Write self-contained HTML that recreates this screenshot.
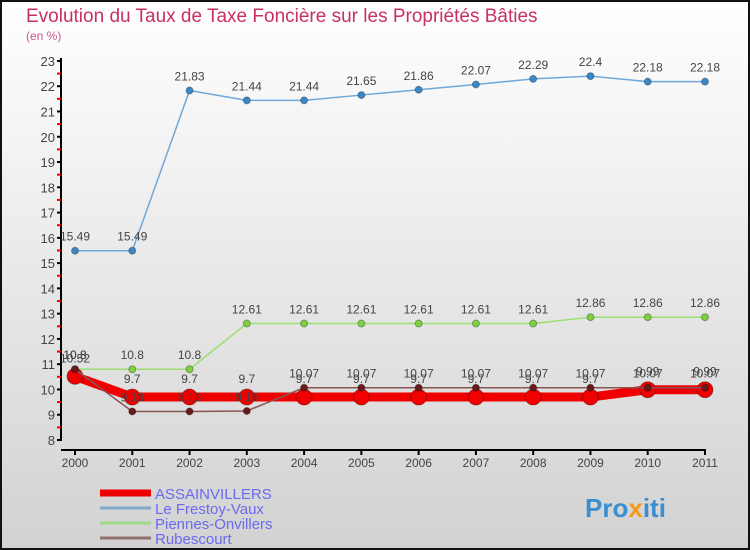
<!DOCTYPE html>
<html><head><meta charset="utf-8"><style>
body{margin:0;width:750px;height:550px;overflow:hidden}
svg{display:block;font-family:"Liberation Sans",sans-serif}
</style></head><body>
<svg id="c" width="750" height="550" viewBox="0 0 750 550">
<defs><linearGradient id="bg" x1="0" y1="0" x2="0" y2="1"><stop offset="0" stop-color="#ffffff"/><stop offset="1" stop-color="#d2d2d2"/></linearGradient></defs>
<rect x="1" y="1" width="748" height="548" fill="url(#bg)" stroke="#111" stroke-width="2"/>
<text x="26" y="22" font-size="19" fill="#c8305f">Evolution du Taux de Taxe Foncière sur les Propriétés Bâties</text>
<text x="26" y="40" font-size="12" fill="#c8588a">(en %)</text>
<g id="axes"></g><g id="series"></g><g id="legend"></g>
<text x="585" y="517" font-size="26" font-weight="bold" fill="#3a8fd0">Pro<tspan fill="#f39a1a">x</tspan>iti</text>
</svg>
<script>
const years=[2000,2001,2002,2003,2004,2005,2006,2007,2008,2009,2010,2011];
const yTicks=[8,9,10,11,12,13,14,15,16,17,18,19,20,21,22,23];
const assain=[10.52,9.7,9.7,9.7,9.7,9.7,9.7,9.7,9.7,9.7,9.99,9.99];
const frestoy=[15.49,15.49,21.83,21.44,21.44,21.65,21.86,22.07,22.29,22.4,22.18,22.18];
const piennes=[10.8,10.8,10.8,12.61,12.61,12.61,12.61,12.61,12.61,12.86,12.86,12.86];
const rubes=[10.8,9.13,9.13,9.15,10.07,10.07,10.07,10.07,10.07,10.07,10.07,10.07];
const names=["ASSAINVILLERS","Le Frestoy-Vaux","Piennes-Onvillers","Rubescourt"];
const NS="http://www.w3.org/2000/svg";
const xs=i=>75+i*(630/11);
const ys=v=>440-(v-8)*25.27;
function mk(t,a,p){const e=document.createElementNS(NS,t);for(const k in a)e.setAttribute(k,a[k]);p.appendChild(e);return e;}
const ax=document.getElementById('axes');
let l=mk('line',{x1:61,y1:58,x2:61,y2:441,stroke:'#000','stroke-width':2},ax);


l=mk('line',{x1:61,y1:450,x2:706,y2:450,stroke:'#000','stroke-width':2},ax);


yTicks.forEach((v,i)=>{
 mk('line',{x1:57,y1:ys(v),x2:61,y2:ys(v),stroke:'#000','stroke-width':2},ax);
 if(i<yTicks.length-1)mk('line',{x1:57,y1:ys(v+0.5),x2:61,y2:ys(v+0.5),stroke:'#e00','stroke-width':2},ax);
 const t=mk('text',{x:55,y:ys(v)+5,'text-anchor':'end','font-size':13,fill:'#444'},ax);
 t.textContent=v;
 
 
});
years.forEach((y,i)=>{
 mk('line',{x1:xs(i),y1:450,x2:xs(i),y2:455,stroke:'#000','stroke-width':2},ax);
 const t=mk('text',{x:xs(i),y:467,'text-anchor':'middle','font-size':12,fill:'#444'},ax);
 t.textContent=y;
 
 
});
const sg=document.getElementById('series');
function series(data,name,color,lw,pr,pc,labOff){
 const g=mk('g',{},sg);
 
 
 const p=mk('polyline',{points:data.map((v,i)=>xs(i)+','+ys(v)).join(' '),fill:'none',stroke:color,'stroke-width':lw,'stroke-linejoin':'round'},g);
 
 
 data.forEach((v,i)=>{
  const c=mk('circle',{cx:xs(i),cy:ys(v),r:pr,fill:pc,stroke:'rgba(0,0,0,0.3)'},g);
  
  
  const t=mk('text',{x:xs(i),y:ys(v)+labOff,'text-anchor':'middle','font-size':12,fill:'#444'},g);
  t.textContent=v;
  
  
 });
}
series(frestoy,'le-frestoy-vaux','#6fa8d8',1.5,3.5,'#3a88c8',-10);
series(piennes,'piennes-onvillers','#9be070',1.5,3.5,'#7fd040',-10);
series(assain,'assainvillers','#f00000',9,8,'#f00000',-14);
series(rubes,'rubescourt','#8a5555',1.5,3.5,'#6a1a1a',-10);
const lg=document.getElementById('legend');
const lc=['#f00000','#80aac8','#a0d888','#907070'],lw=[7,3,3,3];
names.forEach((n,i)=>{
 const y=493+i*15;
 const g=mk('g',{},lg);
 
 
 mk('line',{x1:100,y1:y,x2:151,y2:y,stroke:lc[i],'stroke-width':lw[i]},g);
 const t=mk('text',{x:155,y:y+6,'font-size':15,fill:'#6a6af0'},g);
 t.textContent=n;
});
</script>
</body></html>
